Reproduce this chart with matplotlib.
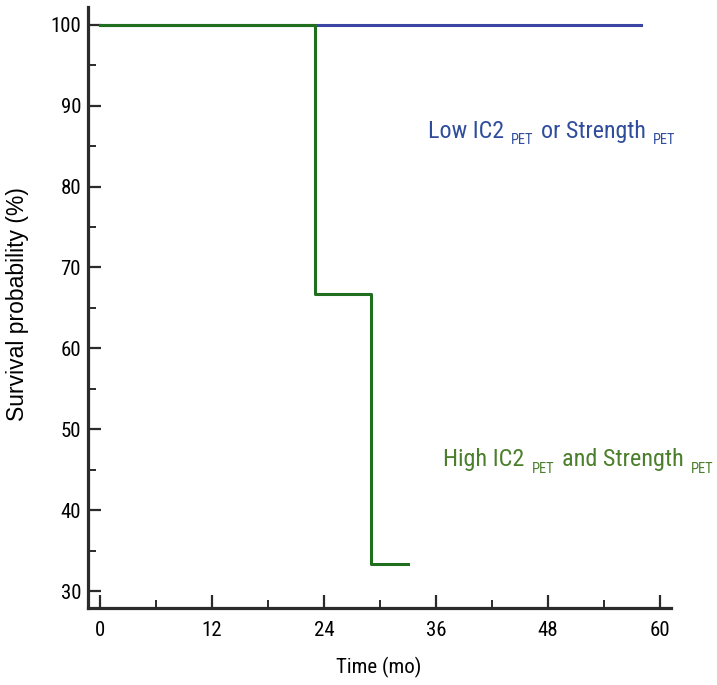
import matplotlib
matplotlib.use('Agg')
import matplotlib.pyplot as plt
from matplotlib.ticker import MultipleLocator
from matplotlib.transforms import offset_copy

# --- data ---
low_time = [0, 58]
low_surv = [100, 100]
high_time = [0, 23, 29, 33]
high_surv = [100, 66.7, 33.3, 33.3]

x_ticks = [0, 12, 24, 36, 48, 60]
y_ticks = [30, 40, 50, 60, 70, 80, 90, 100]

# label pieces: (text, is_subscript)
low_parts = [('Low IC2', False), ('PET', True), ('or Strength', False), ('PET', True)]
high_parts = [('High IC2', False), ('PET', True), ('and Strength', False), ('PET', True)]

blue = '#3b45a3'
blue_txt = '#2f4d9c'
green = '#1f6f1f'
green_txt = '#4b7f2b'
axis_col = '#2b2b2b'

plt.rcParams['font.family'] = ['Roboto Condensed', 'DejaVu Sans']

fig = plt.figure(figsize=(7.17, 6.85), dpi=100)
ax = fig.add_axes([0.1227, 0.1124, 0.8131, 0.8774])
renderer = fig.canvas.get_renderer()

ax.step(low_time, low_surv, where='post', color=blue, lw=2.2)
ax.step(high_time, high_surv, where='post', color=green, lw=2.2)

ax.set_xlim(-1.3, 61.2)
ax.set_ylim(27.9, 102.2)

for s in ['top', 'right']:
    ax.spines[s].set_visible(False)
for s in ['left', 'bottom']:
    ax.spines[s].set_linewidth(2.3)
    ax.spines[s].set_color(axis_col)

ax.set_xticks(x_ticks)
ax.set_yticks(y_ticks)
ax.xaxis.set_minor_locator(MultipleLocator(6))
ax.yaxis.set_minor_locator(MultipleLocator(5))
ax.tick_params(which='both', direction='in', color=axis_col, labelsize=15)
ax.tick_params(which='major', length=9.5, width=1.6)
ax.tick_params(which='minor', length=5.5, width=1.4)
ax.tick_params(axis='x', pad=9)
ax.tick_params(axis='y', pad=5)

# axis titles
fig.text(378.5 / 717, 1 - 673 / 685, 'Time (mo)', fontsize=15,
         ha='center', va='baseline')
fig.text(18 / 717, 1 - 304 / 685, 'Survival probability (%)', fontsize=16.5,
         rotation=90, ha='center', va='center',
         family=['Liberation Sans', 'DejaVu Sans'])


def rich_label(x, y, parts, color, width):
    # main text with smaller lowered "PET" pieces, scaled to the given pixel width
    def place(size):
        texts = []
        cur = 0
        gap = size * 0.3 * 100 / 72
        for i, (s, sub) in enumerate(parts):
            fs = size * 0.6 if sub else size
            dy = -size * 0.35 if sub else 0
            if i > 0:
                cur += gap
            tr = offset_copy(ax.transData, fig=fig, x=cur, y=dy, units='dots')
            t = ax.text(x, y, s, fontsize=fs, color=color, va='baseline',
                        transform=tr, clip_on=False)
            cur += t.get_window_extent(renderer).width
            texts.append(t)
        return texts, cur

    texts, total = place(20)
    size = 20 * min(1.0, width / total)
    for t in texts:
        t.remove()
    place(size)


rich_label(35.15, 86.0, low_parts, blue_txt, 247)
rich_label(36.8, 45.4, high_parts, green_txt, 269)

fig.savefig('out.png', dpi=100)
plt.close(fig)
